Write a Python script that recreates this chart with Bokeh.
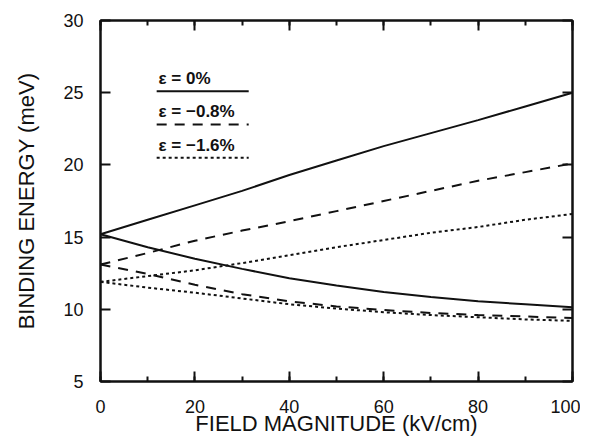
from bokeh.plotting import figure
from bokeh.models import LinearAxis, SingleIntervalTicker, Range1d, CustomJSTickFormatter
from bokeh.core.properties import value
from bokeh.embed import file_html
from bokeh.resources import INLINE

# ---- data ----
field = [0, 10, 20, 30, 40, 50, 60, 70, 80, 90, 100]

eps0_upper = [15.2, 16.2, 17.2, 18.2, 19.3, 20.3, 21.3, 22.2, 23.1, 24.05, 25.0]
eps0_lower = [15.2, 14.3, 13.5, 12.8, 12.15, 11.65, 11.2, 10.85, 10.55, 10.35, 10.15]

eps08_upper = [13.1, 13.9, 14.75, 15.45, 16.1, 16.8, 17.5, 18.2, 18.9, 19.5, 20.1]
eps08_lower = [13.1, 12.45, 11.7, 11.05, 10.55, 10.2, 9.95, 9.75, 9.6, 9.5, 9.4]

eps16_upper = [11.9, 12.3, 12.7, 13.2, 13.75, 14.3, 14.8, 15.3, 15.7, 16.2, 16.6]
eps16_lower = [11.9, 11.5, 11.15, 10.75, 10.35, 10.05, 9.8, 9.6, 9.45, 9.3, 9.2]

legend_labels = ["\u03b5 = 0%", "\u03b5 = \u22120.8%", "\u03b5 = \u22121.6%"]

x_label = "FIELD MAGNITUDE (kV/cm)"
y_label = "BINDING ENERGY (meV)"

# ---- styles / layout ----
INK = "#111111"
FONT = "Liberation Sans"
LW = 2
dashes = ["solid", "10 8", "3 3"]

p = figure(width=580, height=438, output_backend="svg", toolbar_location=None,
           x_range=Range1d(0, 100), y_range=Range1d(5, 30),
           min_border_left=100, min_border_right=8, min_border_top=20,
           min_border_bottom=57, background_fill_color="white",
           border_fill_color="white")
p.grid.visible = False
p.outline_line_color = INK
p.outline_line_width = 2

def style_axis(ax, labels=True):
    ax.axis_line_color = INK
    ax.axis_line_width = 2
    ax.major_tick_line_color = INK
    ax.minor_tick_line_color = INK
    ax.major_tick_line_width = 2
    ax.minor_tick_line_width = 2
    ax.major_tick_out = 0
    ax.minor_tick_out = 0
    ax.major_tick_in = 10
    ax.minor_tick_in = 5
    ax.major_label_text_font = FONT
    ax.major_label_text_color = INK
    ax.axis_label_text_font = FONT
    ax.axis_label_text_font_style = "normal"
    ax.axis_label_text_color = INK
    if not labels:
        ax.formatter = CustomJSTickFormatter(code="return ''")
        ax.major_label_standoff = 0

xt = SingleIntervalTicker(interval=20, num_minor_ticks=2)
yt = SingleIntervalTicker(interval=5, num_minor_ticks=0)

xa = p.xaxis[0]
xa.ticker = xt
style_axis(xa)
xa.major_label_text_font_size = "18px"
xa.major_label_standoff = 18
xa.axis_label = x_label
xa.axis_label_text_font_size = "22px"
xa.axis_label_standoff = -5

ya = p.yaxis[0]
ya.ticker = yt
style_axis(ya)
ya.major_label_text_font_size = "18px"
ya.major_label_standoff = 17
ya.axis_label = y_label
ya.axis_label_text_font_size = "22px"
ya.axis_label_standoff = 21

top = LinearAxis(ticker=SingleIntervalTicker(interval=20, num_minor_ticks=2))
style_axis(top, labels=False)
p.add_layout(top, "above")
right = LinearAxis(ticker=SingleIntervalTicker(interval=5, num_minor_ticks=0))
style_axis(right, labels=False)
p.add_layout(right, "right")

pairs = [(eps0_upper, eps0_lower), (eps08_upper, eps08_lower), (eps16_upper, eps16_lower)]
for (up, lo), dash in zip(pairs, dashes):
    p.line(field, up, line_color=INK, line_width=LW, line_dash=dash)
    p.line(field, lo, line_color=INK, line_width=LW, line_dash=dash)

# legend drawn as text over a line sample
leg_x0, leg_x1 = 11.9, 31.4
leg_y = [25.1, 22.8, 20.5]
for lab, y, dash in zip(legend_labels, leg_y, dashes):
    p.line([leg_x0, leg_x1], [y, y], line_color=INK, line_width=LW, line_dash=dash)
    p.text([12.3], [y], text=[lab], text_font=value(FONT), text_font_size="17px",
           text_font_style="bold", text_color=INK, text_baseline="bottom", y_offset=-3)

open("out.html", "w").write(file_html(p, INLINE))
